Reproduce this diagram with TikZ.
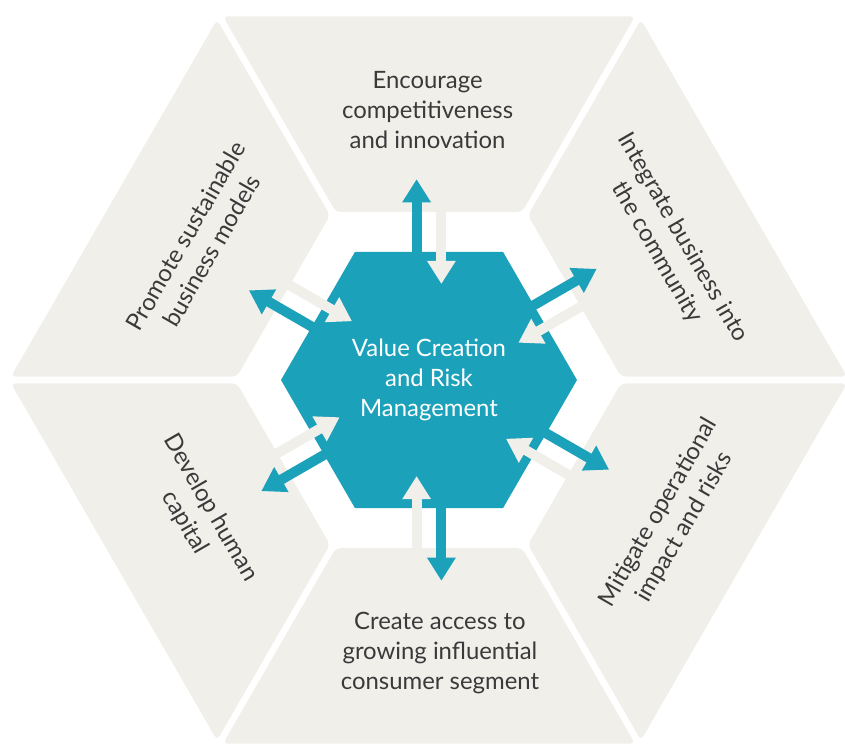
\documentclass[tikz,border=0pt]{standalone}
\usepackage{fontspec}
\setmainfont{Lato}
\usetikzlibrary{arrows.meta,positioning,shapes.geometric}
\definecolor{hexTeal}{RGB}{27,161,185}
\definecolor{hexGrey}{RGB}{240,239,234}
\definecolor{hexText}{RGB}{58,58,58}
\newcommand{\segfont}{\fontsize{17}{21.3}\selectfont}

\begin{document}
\begin{tikzpicture}[
  segment/.style={fill=hexGrey, rounded corners=0.12cm},
  core/.style={
    regular polygon,
    regular polygon sides=6,
    minimum size=7.4cm,
    inner sep=0pt,
    fill=hexTeal,
    text=white,
    align=center,
    font=\segfont
  },
  seglabel/.style={text=hexText, align=center, font=\segfont},
  outarrow/.style={-{Triangle[length=0.58cm,width=0.68cm]},line width=0.25cm,hexTeal},
  inarrow/.style={-{Triangle[length=0.58cm,width=0.68cm]},line width=0.25cm,hexGrey}
]
  \useasboundingbox (-10.725,-9.15) rectangle (10.4,9.5);

  % outer ring, cut in six pieces
  \foreach \ang in {30,90,...,330}{
    \fill[segment,rotate=\ang] (9.093,5.152) -- (9.093,-5.152)
      -- (4.2,-2.327) -- (4.2,2.327) -- cycle;
  }

  \node[core] (core) at (0,0) {Value Creation\\and Risk\\Management};

  % a pair of arrows towards every piece
  \foreach \ang/\name in {90/top,30/upright,150/upleft,210/lowleft,270/bottom,330/lowright}{
    \begin{scope}[rotate=\ang]
      \coordinate (\name-out-s) at (3.0,0.31);
      \coordinate (\name-out-e) at (5.02,0.31);
      \coordinate (\name-in-s) at (4.35,-0.31);
      \coordinate (\name-in-e) at (2.4,-0.31);
    \end{scope}
    \draw[outarrow] (\name-out-s) -- (\name-out-e);
    \draw[inarrow] (\name-in-s) -- (\name-in-e);
  }

  \node[seglabel] (compete) at (90.3:6.75)
    {Encourage\\competitiveness\\and innovation};
  \node[seglabel,rotate=-60] (community) at (29.3:6.9)
    {Integrate business into\\the community};
  \node[seglabel,rotate=60] (sustain) at (149.3:6.7)
    {Promote sustainable\\business models};
  \node[seglabel,rotate=-60] (capital) at (210.3:6.7)
    {Develop human\\capital};
  \node[seglabel] (consumer) at (272.3:6.83)
    {Create access to\\growing influential\\consumer segment};
  \node[seglabel,rotate=60] (risks) at (330:7.0)
    {Mitigate operational\\impact and risks};
\end{tikzpicture}
\end{document}
